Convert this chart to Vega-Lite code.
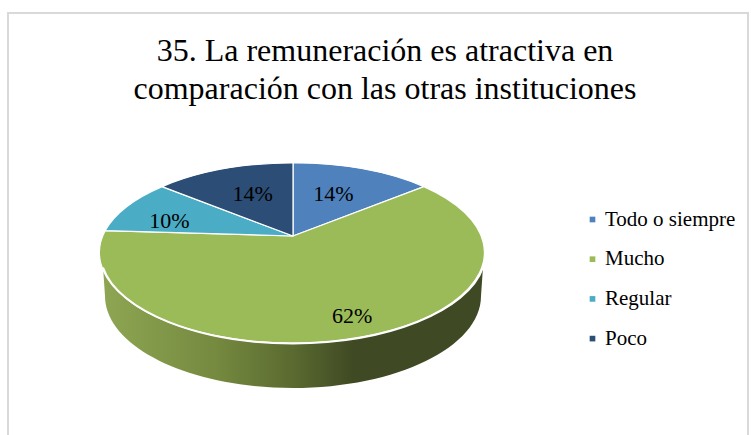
{
  "$schema": "https://vega.github.io/schema/vega-lite/v6.json",
  "width": 740,
  "height": 440,
  "autosize": {"type": "none"},
  "padding": {"left": 8, "top": 13, "right": 3, "bottom": 0},
  "background": "white",
  "config": {
    "view": {"stroke": "#d9d9d9", "strokeWidth": 2},
    "font": "Liberation Serif"
  },
  "title": {
    "text": ["35. La remuneración es atractiva en", "comparación con las otras instituciones"],
    "font": "Liberation Serif",
    "fontSize": 32,
    "fontWeight": "normal",
    "color": "#000000",
    "anchor": "middle",
    "frame": "group",
    "baseline": "alphabetic",
    "lineHeight": 38,
    "offset": 0,
    "dx": 7,
    "dy": 118
  },
  "data": {
    "values": [
      {"categoria": "Todo o siempre", "valor": 14},
      {"categoria": "Mucho", "valor": 62},
      {"categoria": "Regular", "valor": 10},
      {"categoria": "Poco", "valor": 14}
    ]
  },
  "transform": [
    {"window": [{"op": "sum", "field": "valor", "as": "fin"}]},
    {"calculate": "(datum.fin - datum.valor) / 100 * 2 * PI", "as": "a0"},
    {"calculate": "datum.fin / 100 * 2 * PI", "as": "a1"},
    {"calculate": "(datum.a0 + datum.a1) / 2", "as": "am"},
    {"calculate": "round(190.5 * sin(datum.a0) / (1 + 0.191 * cos(datum.a0)) * 100) / 100", "as": "x0"},
    {"calculate": "round(-86.95 * cos(datum.a0) / (1 + 0.191 * cos(datum.a0)) * 100) / 100", "as": "y0"},
    {"calculate": "round(190.5 * sin(datum.a1) / (1 + 0.191 * cos(datum.a1)) * 100) / 100", "as": "x1"},
    {"calculate": "round(-86.95 * cos(datum.a1) / (1 + 0.191 * cos(datum.a1)) * 100) / 100", "as": "y1"},
    {"calculate": "'M0,0L' + datum.x0 + ',' + datum.y0 + 'A192.5,90.5 0 ' + (datum.valor > 50 ? 1 : 0) + ' 1 ' + datum.x1 + ',' + datum.y1 + 'Z'", "as": "cuna"},
    {"calculate": "datum.valor == 62 ? 0.82 : datum.valor == 10 ? 0.74 : 0.55", "as": "r"},
    {"calculate": "188.95 * datum.r * sin(datum.am) / (1 + 0.191 * datum.r * cos(datum.am)) + (datum.valor == 62 ? 3 : 0)", "as": "lx"},
    {"calculate": "86.95 * datum.r * cos(datum.am) / (1 + 0.191 * datum.r * cos(datum.am)) + (datum.valor == 10 ? -8 : datum.valor == 14 ? 2 : 0)", "as": "ly"},
    {"calculate": "datum.valor + '%'", "as": "etiqueta"}
  ],
  "layer": [
    {
      "transform": [{"filter": "datum.valor == 62"}],
      "mark": {
        "type": "point",
        "filled": true,
        "opacity": 1,
        "size": 4,
        "shape": "M190,31A192.5,90.5 0 0 1 -190,31L-188,60A188,92 0 0 0 188,60Z",
        "fill": {
          "x1": 0, "x2": 1, "y1": 0, "y2": 0,
          "gradient": "linear",
          "stops": [
            {"offset": 0, "color": "#8ea653"},
            {"offset": 0.3, "color": "#75893f"},
            {"offset": 0.5, "color": "#5a6a30"},
            {"offset": 0.66, "color": "#3f4923"},
            {"offset": 1, "color": "#3f4923"}
          ]
        }
      },
      "encoding": {
        "x": {"datum": 0, "type": "quantitative", "scale": {"domain": [-285, 455], "nice": false, "zero": false}, "axis": null},
        "y": {"datum": 0, "type": "quantitative", "scale": {"domain": [-217, 223], "nice": false, "zero": false}, "axis": null}
      }
    },
    {
      "mark": {"type": "point", "filled": true, "opacity": 1, "size": 4, "stroke": "white", "strokeWidth": 1.2},
      "encoding": {
        "x": {"datum": 0, "type": "quantitative", "scale": {"domain": [-285, 455], "nice": false, "zero": false}, "axis": null},
        "y": {"datum": 0, "type": "quantitative", "scale": {"domain": [-217, 223], "nice": false, "zero": false}, "axis": null},
        "shape": {"field": "cuna", "type": "nominal", "scale": null},
        "color": {
          "field": "categoria",
          "type": "nominal",
          "sort": null,
          "scale": {
            "domain": ["Todo o siempre", "Mucho", "Regular", "Poco"],
            "range": ["#4f81bd", "#9bbb59", "#4bacc6", "#2c4d75"]
          },
          "legend": {
            "title": null,
            "orient": "none",
            "legendX": 574,
            "legendY": 196,
            "symbolType": "square",
            "symbolSize": 32,
            "symbolStrokeWidth": 0,
            "labelFont": "Liberation Serif",
            "labelFontSize": 21,
            "labelColor": "#000000",
            "labelOffset": 2,
            "rowPadding": 17.7,
            "labelLimit": 200
          }
        }
      }
    },
    {
      "transform": [{"filter": "datum.valor == 62"}],
      "mark": {
        "type": "point",
        "filled": false,
        "opacity": 1,
        "size": 4,
        "shape": "M190,31.5A192.5,90.5 0 0 1 -190,31.5",
        "stroke": "white",
        "strokeWidth": 2
      },
      "encoding": {
        "x": {"datum": 0, "type": "quantitative", "scale": {"domain": [-285, 455], "nice": false, "zero": false}, "axis": null},
        "y": {"datum": 0, "type": "quantitative", "scale": {"domain": [-217, 223], "nice": false, "zero": false}, "axis": null}
      }
    },
    {
      "mark": {"type": "text", "font": "Liberation Serif", "fontSize": 22, "color": "#000000", "align": "center", "baseline": "middle"},
      "encoding": {
        "x": {"field": "lx", "type": "quantitative", "scale": {"domain": [-285, 455], "nice": false, "zero": false}, "axis": null},
        "y": {"field": "ly", "type": "quantitative", "scale": {"domain": [-217, 223], "nice": false, "zero": false}, "axis": null},
        "text": {"field": "etiqueta", "type": "nominal"}
      }
    }
  ]
}
